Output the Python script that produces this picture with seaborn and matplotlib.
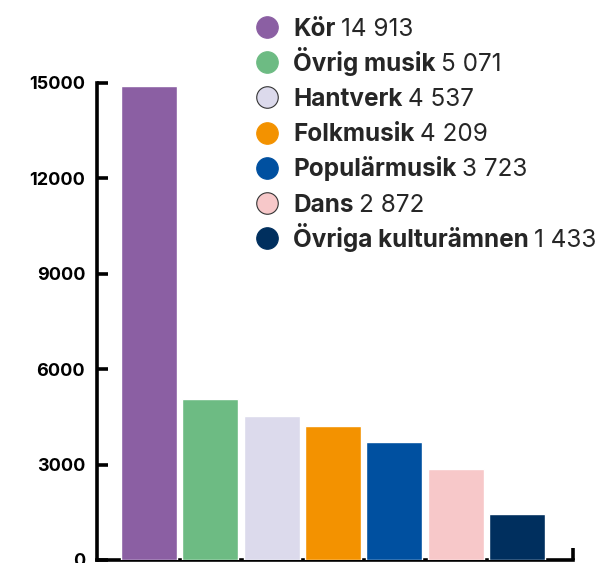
import matplotlib
matplotlib.use('Agg')
import matplotlib.pyplot as plt
from matplotlib.lines import Line2D
import seaborn as sns
import pandas as pd

# Data
categories = ['Kör', 'Övrig musik', 'Hantverk', 'Folkmusik', 'Populärmusik', 'Dans', 'Övriga kulturämnen']
values = [14913, 5071, 4537, 4209, 3723, 2872, 1433]
value_labels = ['14 913', '5 071', '4 537', '4 209', '3 723', '2 872', '1 433']
colors = ['#8b5fa3', '#6dbb83', '#dcdaec', '#f39200', '#0050a0', '#f7c8c9', '#002f5e']
yticks = [0, 3000, 6000, 9000, 12000, 15000]

sns.set_style('white')
plt.rcParams['font.family'] = ['Inter', 'DejaVu Sans']

df = pd.DataFrame({'kategori': categories, 'antal': values})

fig = plt.figure(figsize=(6, 5.63), dpi=100)
ax = fig.add_axes([0.1617, 0.00533, 0.7933, 0.8473])

sns.barplot(data=df, x='kategori', y='antal', hue='kategori', palette=colors,
            legend=False, width=0.915, saturation=1, ax=ax, zorder=3)

ax.set_xlim(-0.848, 6.913)
ax.set_ylim(0, 15000)
ax.set_xlabel('')
ax.set_ylabel('')

for side in ['top', 'right']:
    ax.spines[side].set_visible(False)
for side in ['left', 'bottom']:
    ax.spines[side].set_linewidth(2.6)
    ax.spines[side].set_color('black')
    ax.spines[side].set_zorder(2)

ax.set_yticks(yticks)
ax.set_yticklabels([str(v) for v in yticks], fontsize=13, fontweight='bold')
ax.tick_params(axis='y', left=True, direction='in', length=8, width=2.6, pad=8.5, colors='black')

# only one small tick at the right end of the x axis
ax.set_xticks([6.913])
ax.set_xticklabels([''])
ax.tick_params(axis='x', bottom=True, direction='in', length=9, width=2.6, colors='black')

# legend: coloured dot, bold name, plain number
for i, (name, lab, col) in enumerate(zip(categories, value_labels, colors)):
    yc = 1 - (27 + 35.2 * i) / 563
    yb = yc - 8.5 / 563
    edge = '#333333' if col in ('#dcdaec', '#f7c8c9') else col
    fig.add_artist(Line2D([267 / 600], [yc], marker='o', markersize=15.5, color=col,
                          markeredgecolor=edge, markeredgewidth=0.8, linestyle='none',
                          transform=fig.transFigure))
    t = fig.text(293 / 600, yb, name, fontsize=17.5, fontweight='bold', va='baseline', ha='left')
    ax.annotate(lab, xy=(1, yb), xycoords=(t, 'figure fraction'), xytext=(4, 0),
                textcoords='offset points', fontsize=17.5, va='baseline', ha='left',
                annotation_clip=False)

fig.savefig('out.png', dpi=100)
